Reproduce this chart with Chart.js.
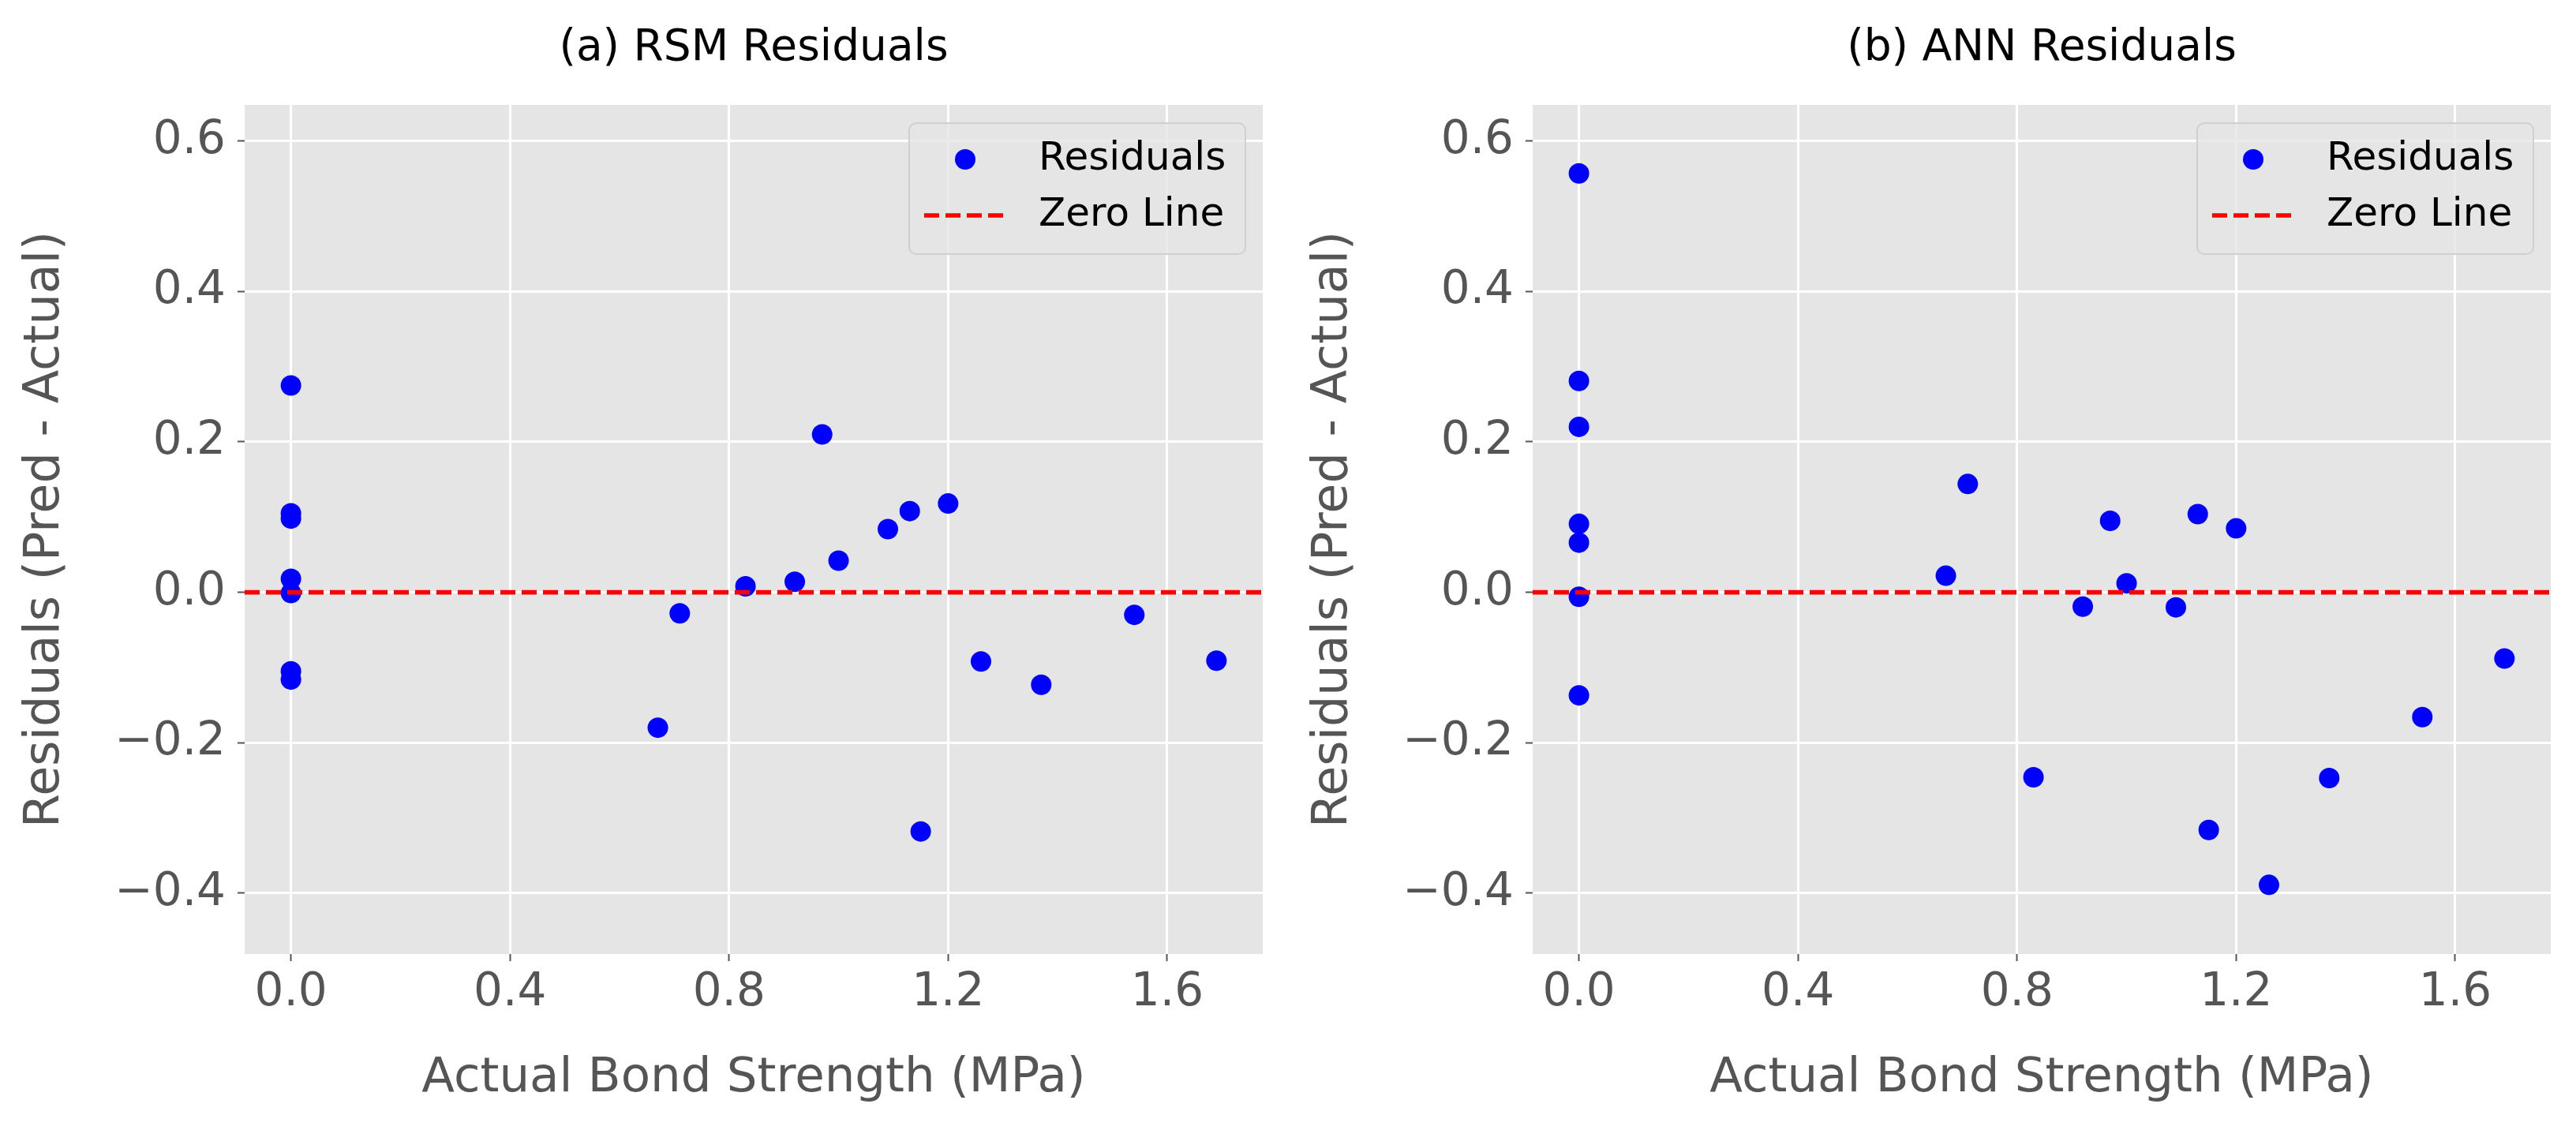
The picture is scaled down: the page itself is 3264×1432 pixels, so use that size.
<!DOCTYPE html>
<html>
<head>
<meta charset="utf-8">
<script src="https://cdn.jsdelivr.net/npm/chart.js@4.4.1/dist/chart.umd.min.js"></script>
<style>
  html, body { margin: 0; padding: 0; background: #fff; }
  #wrap { position: relative; width: 3264px; height: 1432px; }
  canvas { position: absolute; top: 0; }
</style>
</head>
<body>
<div id="wrap">
  <canvas id="rsmChart" width="1632" height="1432" style="left:0"></canvas>
  <canvas id="annChart" width="1632" height="1432" style="left:1632px"></canvas>
</div>
<script>
// values
const actualStrength = [0, 0, 0, 0, 0, 0, 0, 0.67, 0.71, 0.83, 0.92, 0.97, 1.00, 1.09, 1.13, 1.15, 1.20, 1.26, 1.37, 1.54, 1.69];
const rsmResiduals = [0.275, 0.105, 0.098, 0.018, -0.001, -0.105, -0.116, -0.180, -0.028, 0.008, 0.014, 0.210, 0.042, 0.084, 0.108, -0.318, 0.118, -0.092, -0.123, -0.030, -0.091];
const annResiduals = [0.557, 0.281, 0.220, 0.091, 0.066, -0.006, -0.137, 0.022, 0.144, -0.246, -0.019, 0.095, 0.012, -0.020, 0.104, -0.316, 0.085, -0.389, -0.247, -0.166, -0.088];

const xTicks = [0, 0.4, 0.8, 1.2, 1.6];
const xTickLabels = ['0.0', '0.4', '0.8', '1.2', '1.6'];
const yTicks = [-0.4, -0.2, 0, 0.2, 0.4, 0.6];
const yTickLabels = ['\u22120.4', '\u22120.2', '0.0', '0.2', '0.4', '0.6'];
const xRange = [-0.0845, 1.7745];
const yRange = [-0.481, 0.648];
const zeroLevel = 0;

const FONT = 'DejaVu Sans';
Chart.defaults.font.family = FONT;

// grey panel behind the plot
const panelBg = {
  id: 'panelBg',
  beforeDraw(chart) {
    const {ctx, chartArea: a} = chart;
    ctx.save();
    ctx.fillStyle = '#E5E5E5';
    ctx.fillRect(a.left, a.top, a.width, a.height);
    ctx.restore();
  }
};

// legend box in the upper right corner of the plot
const boxLegend = {
  id: 'boxLegend',
  afterDraw(chart) {
    const {ctx, chartArea: a} = chart;
    const w = 426, h = 166;
    const x0 = a.right - 22 - w, y0 = a.top + 23;
    ctx.save();
    ctx.beginPath();
    ctx.roundRect(x0, y0, w, h, 9);
    ctx.fillStyle = 'rgba(229,229,229,0.8)';
    ctx.fill();
    ctx.strokeStyle = '#D0D0D0';
    ctx.lineWidth = 2;
    ctx.stroke();

    chart.data.datasets.forEach((ds, i) => {
      const y = y0 + 46 + i * 71;
      if (ds.showLine) {
        ctx.beginPath();
        ctx.setLineDash(ds.borderDash);
        ctx.strokeStyle = ds.borderColor;
        ctx.lineWidth = ds.borderWidth;
        ctx.moveTo(x0 + 19, y);
        ctx.lineTo(x0 + 120, y);
        ctx.stroke();
        ctx.setLineDash([]);
      } else {
        ctx.beginPath();
        ctx.arc(x0 + 71, y, ds.pointRadius, 0, Math.PI * 2);
        ctx.fillStyle = ds.backgroundColor;
        ctx.fill();
      }
      ctx.fillStyle = '#000';
      ctx.font = '50px "' + FONT + '"';
      ctx.textBaseline = 'middle';
      ctx.textAlign = 'left';
      ctx.fillText(ds.label, x0 + 164, y);
    });
    ctx.restore();
  }
};

function makePanel(id, titleText, residuals) {
  const points = actualStrength.map((x, i) => ({x: x, y: residuals[i]}));
  return new Chart(document.getElementById(id), {
    type: 'scatter',
    data: {
      datasets: [
        {
          label: 'Residuals',
          data: points,
          backgroundColor: '#0000FF',
          pointRadius: 13,
          pointBorderWidth: 0,
          pointHoverRadius: 13,
          order: 1
        },
        {
          label: 'Zero Line',
          data: [{x: xRange[0], y: zeroLevel}, {x: xRange[1], y: zeroLevel}],
          showLine: true,
          borderColor: '#FF0000',
          borderWidth: 5.7,
          borderDash: [19, 8],
          pointRadius: 0,
          order: 0
        }
      ]
    },
    options: {
      responsive: false,
      animation: false,
      devicePixelRatio: 1,
      layout: { padding: { left: 0, right: 32, top: 0, bottom: 0 } },
      plugins: {
        legend: { display: false },
        tooltip: { enabled: false },
        title: {
          display: true,
          text: titleText,
          color: '#000',
          fullSize: false,
          font: { family: FONT, size: 55, weight: 'normal' },
          padding: { top: 29, bottom: 38 }
        }
      },
      scales: {
        x: {
          type: 'linear',
          min: xRange[0],
          max: xRange[1],
          afterBuildTicks: s => { s.ticks = xTicks.map(v => ({value: v})); },
          afterFit: s => { s.height = 223; },
          border: { display: false },
          grid: { color: '#FFFFFF', lineWidth: 3, tickColor: '#555555', tickLength: 9, tickWidth: 2 },
          ticks: {
            color: '#555555',
            font: { family: FONT, size: 58 },
            padding: 6,
            maxRotation: 0,
            callback: v => xTickLabels[xTicks.indexOf(v)]
          },
          title: {
            display: true,
            text: 'Actual Bond Strength (MPa)',
            color: '#555555',
            font: { family: FONT, size: 61 },
            padding: { top: 0, bottom: 28 }
          }
        },
        y: {
          type: 'linear',
          min: yRange[0],
          max: yRange[1],
          afterBuildTicks: s => { s.ticks = yTicks.map(v => ({value: v})); },
          afterFit: s => { s.width = 310; },
          border: { display: false },
          grid: { color: '#FFFFFF', lineWidth: 3, tickColor: '#555555', tickLength: 9, tickWidth: 2 },
          ticks: {
            color: '#555555',
            font: { family: FONT, size: 58 },
            padding: 15,
            callback: v => yTickLabels[yTicks.indexOf(v)]
          },
          title: {
            display: true,
            text: 'Residuals (Pred - Actual)',
            color: '#555555',
            font: { family: FONT, size: 62 },
            padding: { top: 21, bottom: 0 }
          }
        }
      }
    },
    plugins: [panelBg, boxLegend]
  });
}

makePanel('rsmChart', '(a) RSM Residuals', rsmResiduals);
makePanel('annChart', '(b) ANN Residuals', annResiduals);
</script>
</body>
</html>
